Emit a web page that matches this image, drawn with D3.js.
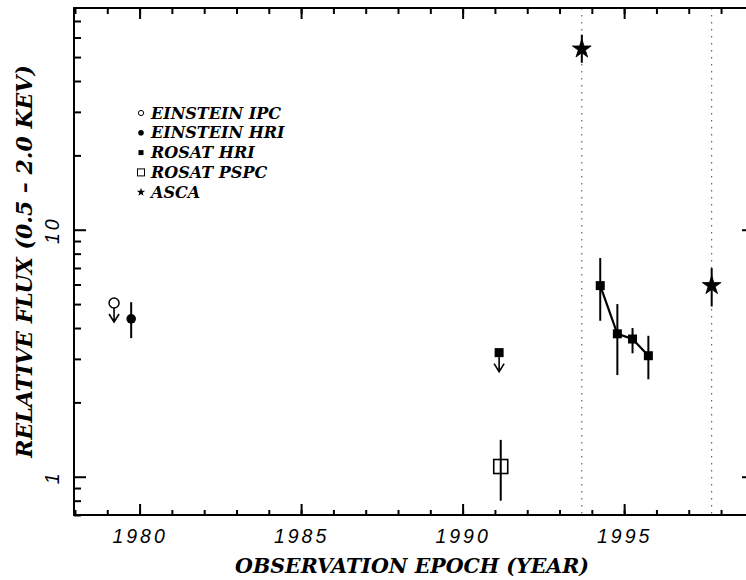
<!DOCTYPE html>
<html>
<head>
<meta charset="utf-8">
<script src="https://cdn.jsdelivr.net/npm/d3@7"></script>
<style>
  html, body { margin: 0; padding: 0; background: #fff; }
  svg { display: block; }
  .serif { font-family: "DejaVu Serif", serif; font-weight: bold; font-style: italic; }
  .tick text { font-family: "Liberation Sans", Arial, sans-serif; font-style: italic; }
</style>
</head>
<body>
<div id="chart"></div>
<script>
// --- data ---
const legendNames = ["EINSTEIN IPC", "EINSTEIN HRI", "ROSAT HRI", "ROSAT PSPC", "ASCA"];

const ipcYear  = [1979.21];
const ipcLimit = [5.05];

const einHriYear = [1979.74];
const einHriFlux = [4.36];
const einHriLo   = [3.64];
const einHriHi   = [5.09];

const rosatLimitYear = [1991.13];
const rosatLimit     = [3.18];

const rosatHriYear = [1994.26, 1994.79, 1995.26, 1995.75];
const rosatHriFlux = [5.94, 3.79, 3.61, 3.09];
const rosatHriLo   = [4.28, 2.58, 3.16, 2.48];
const rosatHriHi   = [7.68, 5.00, 4.00, 3.72];

const pspcYear = [1991.18];
const pspcFlux = [1.10];
const pspcLo   = [0.80];
const pspcHi   = [1.41];

const ascaYear = [1993.69, 1997.71];
const ascaFlux = [53.9, 5.94];
const ascaLo   = [47.4, 4.89];
const ascaHi   = [61.6, 6.99];

const xMajor = [1980, 1985, 1990, 1995];
const xMinor = d3.range(1978, 1999);
const yMajor = [1, 10];
const yMinor = [0.7, 0.8, 0.9, 2, 3, 4, 5, 6, 7, 8, 9, 20, 30, 40, 50, 60, 70];

// --- layout ---
const width = 746, height = 580;
const pLeft = 74, pRight = 754, pTop = 8, pBottom = 515;

const svg = d3.select("#chart").append("svg")
  .attr("width", width).attr("height", height);

const x = d3.scaleLinear().domain([1977.97, 1999.02]).range([pLeft, pRight]);
const y = d3.scaleLog().domain([0.7, 79]).range([pBottom, pTop]);

// dotted lines at the ASCA epochs
svg.selectAll("line.epoch")
  .data(ascaYear)
  .enter().append("line")
  .attr("class", "epoch")
  .attr("x1", d => x(d)).attr("x2", d => x(d))
  .attr("y1", pTop).attr("y2", pBottom)
  .attr("stroke", "#444")
  .attr("stroke-width", 1)
  .attr("stroke-dasharray", "1.5,5.5");

// --- axes (ticks point inward) ---
function styleAxis(g) {
  g.select(".domain").remove();
  g.selectAll(".tick line").attr("stroke", "#000").attr("stroke-width", 2);
}

svg.append("g").attr("transform", `translate(0,${pBottom})`)
  .call(d3.axisBottom(x).tickValues(xMinor).tickSize(-5).tickFormat(""))
  .call(styleAxis);
svg.append("g").attr("transform", `translate(0,${pBottom})`)
  .call(d3.axisBottom(x).tickValues(xMajor).tickSize(-11).tickPadding(14).tickFormat(d3.format("d")))
  .call(styleAxis)
  .call(g => g.selectAll(".tick text")
    .attr("fill", "#000")
    .attr("font-size", 19.5)
    .attr("letter-spacing", 3));

svg.append("g").attr("transform", `translate(0,${pTop})`)
  .call(d3.axisTop(x).tickValues(xMinor).tickSize(-6).tickFormat(""))
  .call(styleAxis);
svg.append("g").attr("transform", `translate(0,${pTop})`)
  .call(d3.axisTop(x).tickValues(xMajor).tickSize(-11).tickFormat(""))
  .call(styleAxis);

svg.append("g").attr("transform", `translate(${pLeft},0)`)
  .call(d3.axisLeft(y).tickValues(yMinor).tickSize(-7).tickFormat(""))
  .call(styleAxis);
svg.append("g").attr("transform", `translate(${pLeft},0)`)
  .call(d3.axisLeft(y).tickValues(yMajor).tickSize(-12).tickFormat(d3.format("d")))
  .call(styleAxis)
  .call(g => g.selectAll(".tick text")
    .attr("transform", "rotate(-90)")
    .attr("x", 0).attr("y", -15).attr("dy", 0)
    .attr("text-anchor", "middle")
    .attr("fill", "#000")
    .attr("font-size", 19.5)
    .attr("letter-spacing", 3));

svg.append("g").attr("transform", `translate(${pRight},0)`)
  .call(d3.axisRight(y).tickValues(yMinor).tickSize(-7).tickFormat(""))
  .call(styleAxis);
svg.append("g").attr("transform", `translate(${pRight},0)`)
  .call(d3.axisRight(y).tickValues(yMajor).tickSize(-12).tickFormat(""))
  .call(styleAxis);

// frame
svg.append("rect")
  .attr("x", pLeft).attr("y", pTop)
  .attr("width", pRight - pLeft).attr("height", pBottom - pTop)
  .attr("fill", "none").attr("stroke", "#000").attr("stroke-width", 2);

// axis titles
svg.append("text").attr("class", "serif")
  .attr("x", 412).attr("y", 573)
  .attr("text-anchor", "middle").attr("font-size", 20.5)
  .text("OBSERVATION EPOCH (YEAR)");

svg.append("text").attr("class", "serif")
  .attr("transform", `translate(32,${(pTop + pBottom) / 2}) rotate(-90)`)
  .attr("text-anchor", "middle").attr("font-size", 22)
  .text("RELATIVE FLUX (0.5 – 2.0 KEV)");

// --- data marks ---
const plot = svg.append("g");

function errorBars(years, lo, hi) {
  plot.selectAll(null)
    .data(years.map((d, i) => ({ t: d, lo: lo[i], hi: hi[i] })))
    .enter().append("line")
    .attr("x1", d => x(d.t)).attr("x2", d => x(d.t))
    .attr("y1", d => y(d.lo)).attr("y2", d => y(d.hi))
    .attr("stroke", "#000").attr("stroke-width", 2);
}

function downArrows(years, vals) {
  plot.selectAll(null)
    .data(years.map((d, i) => ({ t: d, v: vals[i] })))
    .enter().append("path")
    .attr("fill", "none").attr("stroke", "#000").attr("stroke-width", 1.6)
    .attr("d", d => {
      const cx = x(d.t), cy = y(d.v);
      return `M${cx},${cy}V${cy + 19}M${cx - 5},${cy + 11}L${cx},${cy + 19}L${cx + 5},${cy + 11}`;
    });
}

// Einstein IPC upper limit
downArrows(ipcYear, ipcLimit);
plot.selectAll(null).data(ipcYear).enter().append("circle")
  .attr("cx", d => x(d)).attr("cy", (d, i) => y(ipcLimit[i]))
  .attr("r", 5).attr("fill", "#fff").attr("stroke", "#000").attr("stroke-width", 1.5);

// Einstein HRI
errorBars(einHriYear, einHriLo, einHriHi);
plot.selectAll(null).data(einHriYear).enter().append("circle")
  .attr("cx", d => x(d)).attr("cy", (d, i) => y(einHriFlux[i]))
  .attr("r", 4.8).attr("fill", "#000");

// ROSAT HRI upper limit
downArrows(rosatLimitYear, rosatLimit);
plot.selectAll(null).data(rosatLimitYear).enter().append("rect")
  .attr("x", d => x(d) - 4.5).attr("y", (d, i) => y(rosatLimit[i]) - 4.5)
  .attr("width", 9).attr("height", 9).attr("fill", "#000");

// ROSAT PSPC
errorBars(pspcYear, pspcLo, pspcHi);
plot.selectAll(null).data(pspcYear).enter().append("rect")
  .attr("x", d => x(d) - 7).attr("y", (d, i) => y(pspcFlux[i]) - 7)
  .attr("width", 14).attr("height", 14)
  .attr("fill", "none").attr("stroke", "#000").attr("stroke-width", 1.6);

// ROSAT HRI light curve
errorBars(rosatHriYear, rosatHriLo, rosatHriHi);
plot.append("path")
  .datum(rosatHriYear.map((d, i) => [d, rosatHriFlux[i]]))
  .attr("fill", "none").attr("stroke", "#000").attr("stroke-width", 2.2)
  .attr("d", d3.line().x(d => x(d[0])).y(d => y(d[1])));
plot.selectAll(null).data(rosatHriYear).enter().append("rect")
  .attr("x", d => x(d) - 4.5).attr("y", (d, i) => y(rosatHriFlux[i]) - 4.5)
  .attr("width", 9).attr("height", 9).attr("fill", "#000");

// ASCA
errorBars(ascaYear, ascaLo, ascaHi);
const star = d3.symbol().type(d3.symbolStar).size(110);
plot.selectAll(null).data(ascaYear).enter().append("path")
  .attr("transform", (d, i) => `translate(${x(d)},${y(ascaFlux[i])})`)
  .attr("d", star).attr("fill", "#000")
  .attr("stroke", "#000").attr("stroke-width", 0.8).attr("stroke-linejoin", "round");

// --- legend ---
const legend = svg.append("g").attr("transform", "translate(141,113)");
const rows = legend.selectAll("g").data(legendNames).enter().append("g")
  .attr("transform", (d, i) => `translate(0,${i * 19.8})`);

rows.append("text").attr("class", "serif")
  .attr("x", 10).attr("y", 5.5).attr("font-size", 16)
  .text(d => d);

rows.each(function (d, i) {
  const g = d3.select(this);
  if (i === 0) g.append("circle").attr("r", 2.6).attr("fill", "#fff").attr("stroke", "#000").attr("stroke-width", 1);
  if (i === 1) g.append("circle").attr("r", 2.8).attr("fill", "#000");
  if (i === 2) g.append("rect").attr("x", -2.5).attr("y", -2.5).attr("width", 5).attr("height", 5).attr("fill", "#000");
  if (i === 3) g.append("rect").attr("x", -3.5).attr("y", -3.5).attr("width", 7).attr("height", 7)
    .attr("fill", "none").attr("stroke", "#000").attr("stroke-width", 1);
  if (i === 4) g.append("path").attr("d", d3.symbol().type(d3.symbolStar).size(22)).attr("fill", "#000");
});
</script>
</body>
</html>
